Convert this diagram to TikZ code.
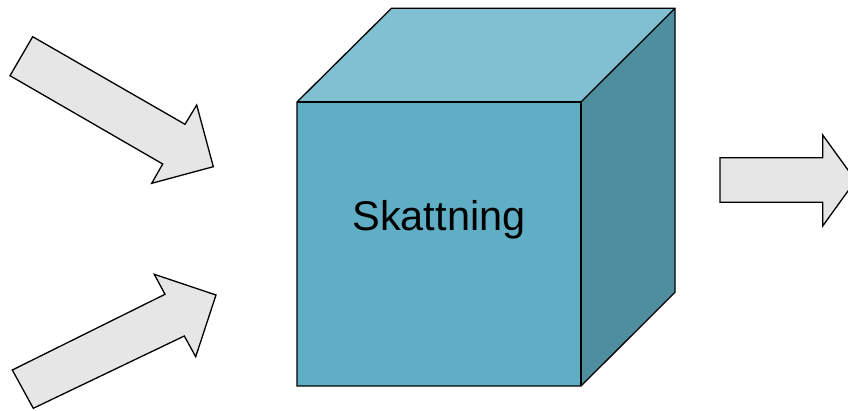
\documentclass[tikz,border=0pt]{standalone}
\usepackage{fontspec}
\setmainfont{Liberation Sans}
\definecolor{cubefront}{RGB}{95,174,198}
\definecolor{cubetop}{RGB}{128,192,210}
\definecolor{cubeside}{RGB}{78,142,158}
\definecolor{arrowfill}{RGB}{230,230,230}
\tikzset{
  facebox/.style={draw=black, line width=1.3pt, line join=miter},
  blockarrow/.style={draw=black, fill=arrowfill, line width=1.3pt, line join=miter},
}
\begin{document}
\begin{tikzpicture}[x=1pt,y=-1pt]
\useasboundingbox (0,0) rectangle (848,411);
% cube
\coordinate (fa) at (297,102);
\coordinate (fb) at (581,102);
\coordinate (fc) at (581,386);
\coordinate (fd) at (297,386);
\coordinate (ba) at (391.5,8.3);
\coordinate (bb) at (675,8.3);
\coordinate (bc) at (675,292.3);
\fill[cubetop] (fa) -- (ba) -- (bb) -- (fb) -- cycle;
\fill[cubeside] (fb) -- (bb) -- (bc) -- (fc) -- cycle;
\fill[cubefront] (fa) -- (fb) -- (fc) -- (fd) -- cycle;
\draw[facebox] (fa) -- (ba) -- (bb) -- (bc) -- (fc) -- (fd) -- cycle;
\draw[facebox] (fa) -- (fb) -- (fc);
\draw[facebox] (fb) -- (bb);
\node[anchor=base, inner sep=0pt, font=\fontsize{41.5}{50}\selectfont] (label) at (439,230.5) {Skattning};
% upper-left arrow
\draw[blockarrow] (32.7,36.7) -- (185,124.3) -- (196.7,105) -- (213.3,166.7) -- (151.7,183.3) -- (162.7,164) -- (10,75.7) -- cycle;
% lower-left arrow
\draw[blockarrow] (12.3,370) -- (165,294.3) -- (154.3,274.3) -- (216,295) -- (195.7,356.7) -- (184.3,336) -- (33.3,408.3) -- cycle;
% right arrow
\begin{scope}
\clip (0,0) rectangle (848,411);
\draw[blockarrow] (720,157.7) -- (822.7,157.7) -- (822.7,135) -- (855.6,180.5) -- (822.7,226) -- (822.7,202.3) -- (720,202.3) -- cycle;
\end{scope}
\end{tikzpicture}
\end{document}
